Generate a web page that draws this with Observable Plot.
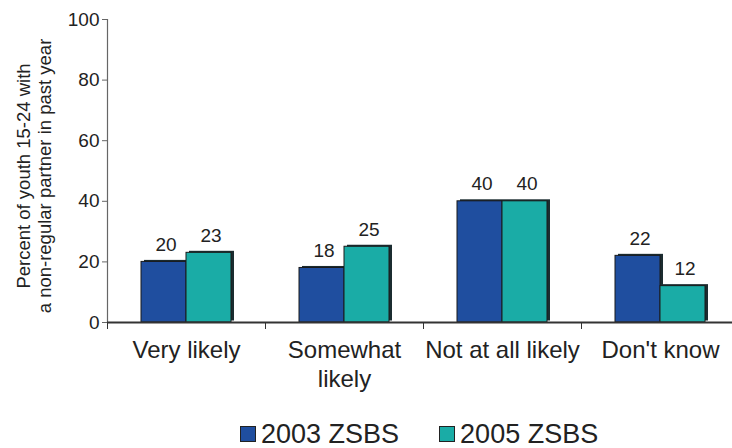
<!DOCTYPE html>
<html>
<head>
<meta charset="utf-8">
<script src="https://cdn.jsdelivr.net/npm/d3@7"></script>
<script src="https://cdn.jsdelivr.net/npm/@observablehq/plot@0.6"></script>
<style>
  body { margin: 0; background: #fff; font-family: "Liberation Sans", Arial, sans-serif; }
  #legend { margin-top: 5px; padding-left: 240px; font-size: 27px; line-height: 26px; color: #222; white-space: nowrap; }
  #legend span.item { display: inline-flex; align-items: center; margin-right: 40px; }
  #legend span.sw { display: inline-block; width: 16px; height: 16px; border: 1px solid #222; margin-right: 5px; box-sizing: border-box; }
</style>
</head>
<body>
<div id="chart"></div>
<div id="legend"></div>
<script>
const categories = ["Very likely", "Somewhat likely", "Not at all likely", "Don't know"];
const xTickLabels = ["Very likely", "Somewhat\nlikely", "Not at all likely", "Don't know"];
const series = ["2003 ZSBS", "2005 ZSBS"];
const values2003 = [20, 18, 40, 22];
const values2005 = [23, 25, 40, 12];
const yTicks = [0, 20, 40, 60, 80, 100];
const colors = ["#1f4e9f", "#1aaca6"];
const yLabel = "Percent of youth 15-24 with\na non-regular partner in past year";

const data = categories.flatMap((c, i) => [
  {cat: c, series: series[0], value: values2003[i]},
  {cat: c, series: series[1], value: values2005[i]}
]);

const W = 732, H = 415, ML = 107, MT = 19, MB = 93;

const chart = Plot.plot({
  width: W,
  height: H,
  marginLeft: ML,
  marginRight: 0,
  marginTop: MT,
  marginBottom: MB,
  style: {fontFamily: "'Liberation Sans', Arial, sans-serif", color: "#222", background: "#fff"},
  fx: {domain: categories, padding: 0, range: [ML, W + 7], label: null},
  x: {domain: series, paddingInner: 0, paddingOuter: 0.755, axis: null},
  y: {domain: [0, 100], ticks: yTicks, label: null},
  color: {domain: series, range: colors},
  marks: [
    Plot.frame({anchor: "left", facetAnchor: "left", stroke: "#666", strokeWidth: 1.2}),
    Plot.frame({anchor: "left", stroke: "#333", strokeWidth: 1, insetTop: 303, insetBottom: -6}),
    Plot.axisY({ticks: yTicks, tickSize: 5, tickPadding: 3, fontSize: 19, stroke: "#666", label: null}),
    Plot.axisFx({anchor: "bottom", tickSize: 0, tickPadding: 16, fontSize: 24, lineWidth: Infinity, lineHeight: 1.17, label: null,
      tickFormat: d => xTickLabels[categories.indexOf(d)]}),
    Plot.text([yLabel], {facet: "super", frameAnchor: "left", textAnchor: "middle", lineAnchor: "middle", rotate: -90, dx: -74, dy: 5, fontSize: 18.5, lineHeight: 1.14, fill: "#222"}),
    Plot.barY(data, {fx: "cat", x: "series", y: "value", fill: "#1b2c30", dx: 3, dy: -1.5}),
    Plot.barY(data, {fx: "cat", x: "series", y: "value", fill: "series", stroke: "#1a1a1a", strokeWidth: 1}),
    Plot.ruleY([0], {stroke: "#333", strokeWidth: 2}),
    Plot.text(data, {fx: "cat", x: "series", y: "value", text: d => String(d.value), dy: -11, dx: 2, lineAnchor: "bottom", fontSize: 19, fill: "#222"})
  ]
});
document.getElementById("chart").appendChild(chart);

const legend = document.getElementById("legend");
series.forEach((s, i) => {
  const item = document.createElement("span");
  item.className = "item";
  const sw = document.createElement("span");
  sw.className = "sw";
  sw.style.background = colors[i];
  item.appendChild(sw);
  item.appendChild(document.createTextNode(s));
  legend.appendChild(item);
});
</script>
</body>
</html>
